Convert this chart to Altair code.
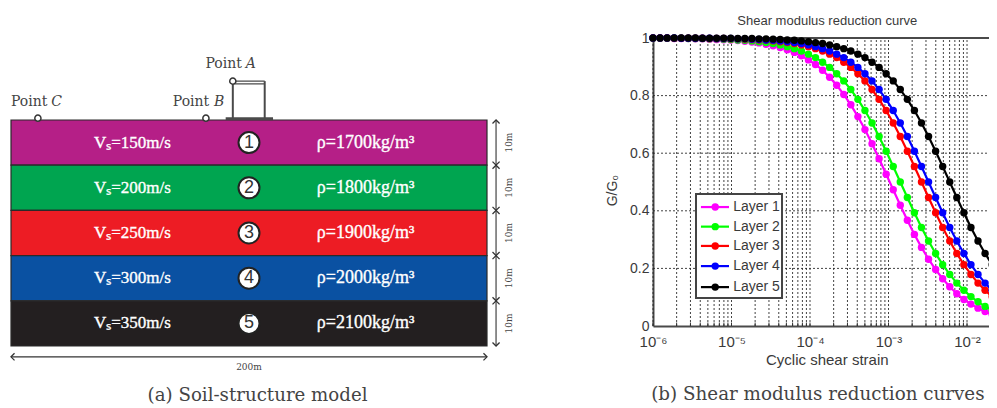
import altair as alt
import pandas as pd

# ---------- left panel: soil model (metres) ----------
layer_top = [0, 10, 20, 30, 40]
layer_bottom = [10, 20, 30, 40, 50]
layer_fill = ["#b51f87", "#00a550", "#ed1c24", "#0a51a2", "#231f20"]
vs_text = ["Vₛ=150m/s", "Vₛ=200m/s", "Vₛ=250m/s", "Vₛ=300m/s", "Vₛ=350m/s"]
rho_text = ["ρ=1700kg/m³", "ρ=1800kg/m³", "ρ=1900kg/m³", "ρ=2000kg/m³", "ρ=2100kg/m³"]
layer_no = ["1", "2", "3", "4", "5"]

# ---------- right panel: reduction curves ----------
log_strain = [-6.00, -5.91, -5.82, -5.73, -5.64, -5.55, -5.46, -5.37, -5.28, -5.19,
              -5.10, -5.01, -4.92, -4.83, -4.74, -4.65, -4.56, -4.47, -4.38, -4.29,
              -4.20, -4.11, -4.02, -3.93, -3.84, -3.75, -3.66, -3.57, -3.48, -3.39,
              -3.30, -3.21, -3.12, -3.03, -2.94, -2.85, -2.76, -2.67, -2.58, -2.49,
              -2.40, -2.31, -2.22, -2.13, -2.04, -1.95, -1.86, -1.77, -1.68, -1.59]
layer1 = [.999, .999, .999, .998, .998, .998, .997, .997, .996, .995,
          .994, .993, .991, .989, .986, .983, .978, .973, .967, .959,
          .950, .938, .924, .908, .888, .864, .836, .804, .768, .727,
          .682, .633, .581, .527, .473, .419, .367, .318, .273, .232,
          .196, .164, .136, .112, .092, .076, .062, .050, .041, .033]
layer2 = [.999, .999, .999, .999, .999, .998, .998, .998, .997, .997,
          .996, .995, .993, .992, .990, .987, .984, .981, .976, .970,
          .963, .955, .944, .932, .916, .898, .876, .851, .821, .787,
          .748, .705, .658, .607, .554, .500, .446, .393, .342, .295,
          .252, .213, .179, .149, .124, .102, .084, .068, .056, .045]
layer3 = [1.0, 1.0, 1.0, .999, .999, .999, .999, .999, .998, .998,
          .998, .997, .997, .996, .995, .993, .992, .990, .987, .984,
          .981, .976, .970, .963, .955, .944, .932, .916, .898, .876,
          .851, .821, .787, .748, .705, .658, .607, .554, .500, .446,
          .393, .342, .295, .252, .213, .179, .149, .124, .102, .084]
layer4 = [1.0, 1.0, 1.0, 1.0, .999, .999, .999, .999, .999, .998,
          .998, .998, .997, .997, .996, .995, .993, .992, .990, .987,
          .984, .981, .976, .970, .963, .955, .944, .932, .916, .898,
          .876, .851, .821, .787, .748, .705, .658, .607, .554, .500,
          .446, .393, .342, .295, .252, .213, .179, .149, .124, .102]
layer5 = [1.0, 1.0, 1.0, 1.0, 1.0, 1.0, 1.0, .999, .999, .999,
          .999, .999, .998, .998, .998, .997, .997, .996, .995, .993,
          .992, .990, .987, .984, .981, .976, .970, .963, .955, .944,
          .932, .916, .898, .876, .851, .821, .787, .748, .705, .658,
          .607, .554, .500, .446, .393, .342, .295, .252, .213, .179]
series_names = ["Layer 1", "Layer 2", "Layer 3", "Layer 4", "Layer 5"]
series_colors = ["#ff00ff", "#00ff00", "#ff0000", "#0000ff", "#000000"]
legend_y = [0.413, 0.345, 0.278, 0.208, 0.135]
grid_x = [m * 10.0 ** e for e in [-6, -5, -4, -3, -2] for m in range(1, 10)]
grid_y = [0.2, 0.4, 0.6, 0.8]
x_ticks = [1e-6, 1e-5, 1e-4, 1e-3, 1e-2]
y_ticks = [0, 0.2, 0.4, 0.6, 0.8, 1]

W, H = 981, 398
SERIF = "DejaVu Serif"
BODY = "Liberation Serif"
SANS = "Liberation Sans"
INK = "#3a3a3a"

mx = alt.Scale(domain=[0, 200], range=[3, 479], nice=False, zero=False)
my = alt.Scale(domain=[0, 50], range=[112, 338], nice=False, zero=False)
X = lambda f: alt.X(f, type="quantitative", scale=mx, axis=None)
Y = lambda f: alt.Y(f, type="quantitative", scale=my, axis=None)

soil = pd.DataFrame({"top": layer_top, "bottom": layer_bottom, "fill": layer_fill,
                     "vs": vs_text, "rho": rho_text, "no": layer_no})
soil["x0"] = 0
soil["x1"] = 200
soil["mid"] = [(a + b) / 2 for a, b in zip(layer_top, layer_bottom)]
soil["vx"] = 51
soil["rx"] = 149
soil["cx"] = 100

bands = alt.Chart(soil).mark_rect(stroke="#2a2a2a", strokeWidth=1.2).encode(
    x=X("x0"), x2="x1", y=Y("top"), y2="bottom", fill=alt.Fill("fill:N", scale=None))
body_style = dict(font=BODY, color="white", stroke="white", strokeWidth=0.35)
vs_marks = alt.Chart(soil).mark_text(fontSize=17, **body_style).encode(x=X("vx"), y=Y("mid"), text="vs:N")
rho_marks = alt.Chart(soil).mark_text(fontSize=18, **body_style).encode(x=X("rx"), y=Y("mid"), text="rho:N")
circles = alt.Chart(soil).mark_point(filled=True, fill="white", stroke="#222", strokeWidth=2, size=440, opacity=1).encode(
    x=X("cx"), y=Y("mid"))
numbers = alt.Chart(soil).mark_text(font=SANS, fontSize=18, color="#333").encode(
    x=X("cx"), y=Y("mid"), text="no:N")

# building (metres)
building = pd.DataFrame({
    "x": [93.2, 106.6, 93.2, 93.2, 90.2],
    "x2": [93.2, 106.6, 106.6, 106.6, 110.1],
    "y": [-8.6, -8.6, -8.6, -8.0, -0.3],
    "y2": [0, 0, -8.6, -8.0, -0.3],
    "w": [2, 2, 1.4, 1.4, 3],
})
bld = alt.Chart(building).mark_rule(color="#4a4a4a").encode(
    x=X("x"), x2="x2", y=Y("y"), y2="y2", strokeWidth=alt.StrokeWidth("w:Q", scale=None))
pts = pd.DataFrame({"x": [93.2, 81.9, 11.3], "y": [-8.6, -0.4, -0.4]})
pt_marks = alt.Chart(pts).mark_point(filled=True, fill="white", stroke="#333", strokeWidth=1.5, size=38, opacity=1).encode(
    x=X("x"), y=Y("y"))
names = pd.DataFrame({"x": [81.7, 68, 0], "y": [-12.3, -4, -4], "t": ["Point", "Point", "Point"]})
name_marks = alt.Chart(names).mark_text(font=SERIF, fontSize=14, color="#444", align="left").encode(
    x=X("x"), y=Y("y"), text="t:N")
letters = pd.DataFrame({"x": [98.6, 85.3, 16.9], "y": [-12.3, -4, -4], "t": ["A", "B", "C"]})
letter_marks = alt.Chart(letters).mark_text(font=SERIF, fontSize=14, fontStyle="italic", color="#444", align="left").encode(
    x=X("x"), y=Y("y"), text="t:N")

# dimension arrows
dims = pd.DataFrame({"x": [203.8] * 5, "top": layer_top, "bottom": layer_bottom,
                     "lx": [209.2] * 5, "mid": soil["mid"], "t": ["10m"] * 5})
dim_rule = alt.Chart(dims).mark_rule(color="#333", strokeWidth=1.1).encode(x=X("x"), y=Y("top"), y2="bottom")
UP = "M-0.5,0.5L0,0L0.5,0.5"
DOWN = "M-0.5,-0.5L0,0L0.5,-0.5"
LEFT = "M0.5,-0.5L0,0L0.5,0.5"
RIGHT = "M-0.5,-0.5L0,0L-0.5,0.5"
arrow = dict(color="#333", strokeWidth=1.3, size=200, opacity=1)
dim_up = alt.Chart(dims).mark_point(shape=UP, **arrow).encode(x=X("x"), y=Y("top"))
dim_down = alt.Chart(dims).mark_point(shape=DOWN, **arrow).encode(x=X("x"), y=Y("bottom"))
dim_text = alt.Chart(dims).mark_text(font=SERIF, fontSize=9, angle=270, color="#444").encode(
    x=X("lx"), y=Y("mid"), text="t:N")

span = pd.DataFrame({"x0": [0], "x1": [200], "y": [52.4], "lx": [100], "ly": [54.7], "t": ["200m"],
                     "cx": [103.6], "cy": [61.0], "cap": ["(a) Soil-structure model"]})
span_rule = alt.Chart(span).mark_rule(color="#333", strokeWidth=1.1).encode(x=X("x0"), x2="x1", y=Y("y"))
span_l = alt.Chart(span).mark_point(shape=LEFT, **arrow).encode(x=X("x0"), y=Y("y"))
span_r = alt.Chart(span).mark_point(shape=RIGHT, **arrow).encode(x=X("x1"), y=Y("y"))
span_t = alt.Chart(span).mark_text(font=SERIF, fontSize=9, color="#444").encode(x=X("lx"), y=Y("ly"), text="t:N")
cap_a = alt.Chart(span).mark_text(font=SERIF, fontSize=18.2, color="#444").encode(x=X("cx"), y=Y("cy"), text="cap:N")

left = alt.layer(bands, vs_marks, rho_marks, circles, numbers, bld, pt_marks, name_marks, letter_marks,
                 dim_rule, dim_up, dim_down, dim_text, span_rule, span_l, span_r, span_t, cap_a)

# ---------- right panel ----------
X_MAX = 10 ** -1.72
sx = alt.Scale(type="log", domain=[1e-6, X_MAX], range=[645, W], nice=False)
sy = alt.Scale(domain=[0, 1], range=[318, 30], nice=False, zero=False)
RX = lambda f, **k: alt.X(f, type="quantitative", scale=sx, **k)
RY = lambda f, **k: alt.Y(f, type="quantitative", scale=sy, **k)

rows = []
for name, vals in zip(series_names, [layer1, layer2, layer3, layer4, layer5]):
    for e, v in zip(log_strain, vals):
        rows.append({"strain": 10 ** e, "g": v, "layer": name})
curves_df = pd.DataFrame(rows)

gv = pd.DataFrame({"x": grid_x, "y0": [0.0] * len(grid_x), "y1": [1.0] * len(grid_x), "t1": [0.012] * len(grid_x)})
gh = pd.DataFrame({"y": grid_y, "x0": [1e-6] * len(grid_y), "x1": [X_MAX] * len(grid_y)})
dots = dict(color="#222", strokeWidth=1, strokeDash=[2, 2], opacity=0.85)
grid_v = alt.Chart(gv).mark_rule(**dots).encode(
    x=RX("x", axis=alt.Axis(values=x_ticks, labelExpr="['10⁻⁶','10⁻⁵','10⁻⁴','10⁻³','10⁻²'][round(log(datum.value)/LN10)+6]",
                            offset=-(H - 318), orient="bottom", title=None, grid=False, domainColor="#4a4a4a", domainWidth=2,
                            tickSize=0, labelFont=SANS, labelFontSize=15, labelColor=INK, labelPadding=8, labelFlush=False, labelBound=False)),
    y=RY("y0", axis=alt.Axis(values=y_ticks, offset=-645, orient="left", title=None, grid=False, domainColor="#4a4a4a", domainWidth=2,
                             tickSize=0, labelFont=SANS, labelFontSize=14, labelColor=INK, labelPadding=4, format="~g")),
    y2="y1")
ticks = alt.Chart(gv).mark_rule(color="#333", strokeWidth=1).encode(x=RX("x"), y=RY("y0"), y2="t1")
grid_h = alt.Chart(gh).mark_rule(**dots).encode(y=RY("y"), x=RX("x0"), x2="x1")
top_df = pd.DataFrame({"y": [1.0], "x0": [1e-6], "x1": [X_MAX]})
top_line = alt.Chart(top_df).mark_rule(color="#4a4a4a", strokeWidth=2).encode(y=RY("y"), x=RX("x0"), x2="x1")
color_enc = alt.Color("layer:N", scale=alt.Scale(domain=series_names, range=series_colors), legend=None)
curves = alt.Chart(curves_df).mark_line(strokeWidth=2.2, point=alt.OverlayMarkDef(filled=True, size=55, opacity=1)).encode(
    x=RX("strain"), y=RY("g"), color=color_enc)

# legend box drawn in the panel's own scales
box = pd.DataFrame({"x0": [3.53e-6], "x1": [4.4e-5], "y0": [0.097], "y1": [0.458]})
leg_box = alt.Chart(box).mark_rect(fill="white", stroke="#444", strokeWidth=2).encode(
    x=RX("x0"), x2="x1", y=RY("y0"), y2="y1")
leg = pd.DataFrame({"layer": series_names, "y": legend_y, "x0": [4.08e-6] * 5, "x1": [9.3e-6] * 5,
                    "xm": [6.2e-6] * 5, "xt": [1.05e-5] * 5})
leg_lines = alt.Chart(leg).mark_rule(strokeWidth=2.2).encode(x=RX("x0"), x2="x1", y=RY("y"), color=color_enc)
leg_pts = alt.Chart(leg).mark_point(filled=True, size=55, opacity=1).encode(x=RX("xm"), y=RY("y"), color=color_enc)
leg_txt = alt.Chart(leg).mark_text(font=SANS, fontSize=14, color=INK, align="left").encode(
    x=RX("xt"), y=RY("y"), text="layer:N")

texts = pd.DataFrame({
    "x": [1.66e-4, 1.66e-4, 1.26e-4, 3.1e-7],
    "y": [1.059, -0.118, -0.24, 0.47],
    "t": ["Shear modulus reduction curve", "Cyclic shear strain", "(b) Shear modulus reduction curves", "G/G₀"],
})
title_t = alt.Chart(texts.iloc[[0]]).mark_text(font=SANS, fontSize=13, color=INK).encode(x=RX("x"), y=RY("y"), text="t:N")
xlab_t = alt.Chart(texts.iloc[[1]]).mark_text(font=SANS, fontSize=15, color=INK).encode(x=RX("x"), y=RY("y"), text="t:N")
cap_b = alt.Chart(texts.iloc[[2]]).mark_text(font=SERIF, fontSize=18.3, color="#444").encode(x=RX("x"), y=RY("y"), text="t:N")
ylab_t = alt.Chart(texts.iloc[[3]]).mark_text(font=SANS, fontSize=14, color=INK, angle=270).encode(x=RX("x"), y=RY("y"), text="t:N")

right = alt.layer(grid_v, ticks, grid_h, top_line, curves, leg_box, leg_lines, leg_pts, leg_txt,
                  title_t, xlab_t, cap_b, ylab_t)

chart = alt.layer(left, right).resolve_scale(x="independent", y="independent").properties(
    width=W, height=H, padding=0,
    autosize=alt.AutoSizeParams(type="none", contains="padding"),
    background="white",
).configure_view(stroke=None)

chart.save("out.html", embed_options={"renderer": "svg", "actions": False})
